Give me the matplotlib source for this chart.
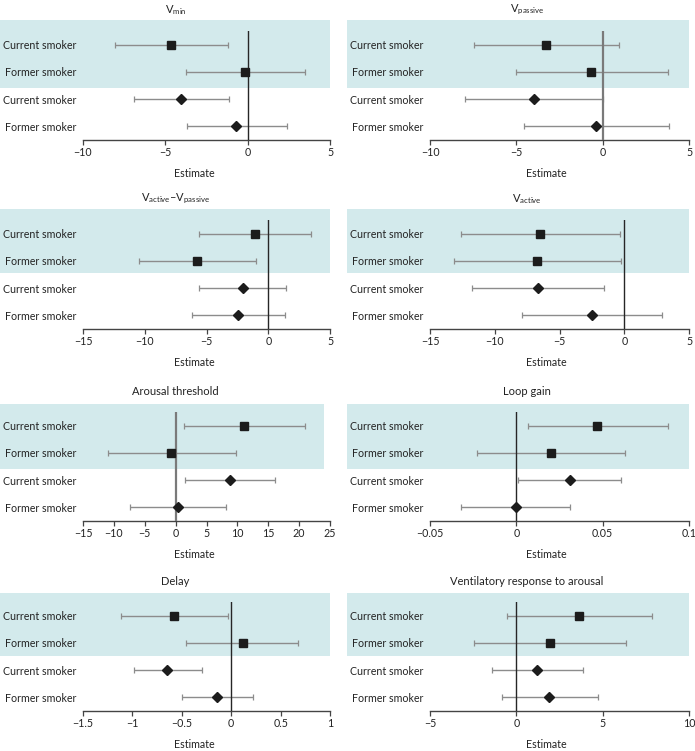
import matplotlib
matplotlib.use("Agg")
import matplotlib.pyplot as plt
from matplotlib.patches import Rectangle
from matplotlib.transforms import blended_transform_factory

plt.rcParams['font.family'] = ['Lato', 'DejaVu Sans']
plt.rcParams['mathtext.fontset'] = 'custom'
plt.rcParams['mathtext.rm'] = 'Lato'

# rows, top to bottom: first two = shaded group (squares), last two = diamonds
row_labels = ["Current smoker", "Former smoker", "Current smoker", "Former smoker"]

titles = [r"V$_\mathrm{min}$", r"V$_\mathrm{passive}$",
          r"V$_\mathrm{active}$–V$_\mathrm{passive}$", r"V$_\mathrm{active}$",
          "Arousal threshold", "Loop gain",
          "Delay", "Ventilatory response to arousal"]

vmin_est = [-4.63, -0.16, -4.03, -0.68]
vmin_lo = [-8.05, -3.74, -6.90, -3.70]
vmin_hi = [-1.17, 3.46, -1.13, 2.40]

vpassive_est = [-3.27, -0.65, -3.98, -0.38]
vpassive_lo = [-7.46, -5.04, -7.96, -4.58]
vpassive_hi = [0.96, 3.77, 0.0, 3.83]

vdiff_est = [-1.05, -5.74, -2.08, -2.45]
vdiff_lo = [-5.58, -10.48, -5.63, -6.20]
vdiff_hi = [3.45, -1.02, 1.43, 1.35]

vactive_est = [-6.53, -6.74, -6.66, -2.47]
vactive_lo = [-12.62, -13.16, -11.77, -7.87]
vactive_hi = [-0.36, -0.26, -1.57, 2.93]

arousal_est = [11.09, -0.71, 8.86, 0.43]
arousal_lo = [1.30, -11.03, 1.52, -7.34]
arousal_hi = [20.90, 9.73, 16.14, 8.20]

loop_est = [0.0469, 0.0202, 0.031, -0.0004]
loop_lo = [0.0066, -0.0229, 0.001, -0.0322]
loop_hi = [0.0881, 0.0627, 0.0607, 0.031]

delay_est = [-0.575, 0.118, -0.646, -0.141]
delay_lo = [-1.114, -0.454, -0.982, -0.501]
delay_hi = [-0.03, 0.68, -0.30, 0.219]

vra_est = [3.64, 1.95, 1.21, 1.91]
vra_lo = [-0.53, -2.45, -1.40, -0.84]
vra_hi = [7.87, 6.35, 3.86, 4.71]

estimates = [vmin_est, vpassive_est, vdiff_est, vactive_est, arousal_est, loop_est, delay_est, vra_est]
lows = [vmin_lo, vpassive_lo, vdiff_lo, vactive_lo, arousal_lo, loop_lo, delay_lo, vra_lo]
highs = [vmin_hi, vpassive_hi, vdiff_hi, vactive_hi, arousal_hi, loop_hi, delay_hi, vra_hi]

xticks = [[-10, -5, 0, 5], [-10, -5, 0, 5],
          [-15, -10, -5, 0, 5], [-15, -10, -5, 0, 5],
          [-15, -10, -5, 0, 5, 10, 15, 20, 25], [-0.05, 0, 0.05, 0.1],
          [-1.5, -1, -0.5, 0, 0.5, 1], [-5, 0, 5, 10]]

W, H = 695, 751
fig = plt.figure(figsize=(W / 100, H / 100), dpi=100)

col_x = [(83, 247), (430, 259)]
row_top = [31, 220, 412, 602]
ax_h = 109
band_y = [(-0.90, 1.61), (-0.90, 1.43), (-0.81, 1.60), (-0.84, 1.50)]
band_left = [-0.336, -0.322]

shade = '#d3eaec'
bar_col = '#8c8c8c'
txt = '#222222'
fs = 7.7

for i in range(8):
    r, c = divmod(i, 2)
    x0, w = col_x[c]
    ax = fig.add_axes([x0 / W, 1 - (row_top[r] + ax_h) / H, w / W, ax_h / H])
    ax.set_facecolor('none')

    est, lo, hi = estimates[i], lows[i], highs[i]
    ys = list(range(4))
    for k in ys:
        ax.errorbar(est[k], k, xerr=[[est[k] - lo[k]], [hi[k] - est[k]]],
                    fmt='none', ecolor=bar_col, elinewidth=1.0, capsize=2.5,
                    capthick=0.9, zorder=2)
        if k < 2:
            ax.plot(est[k], k, 's', color='#1c1c1c', ms=5.5, zorder=4)
        else:
            ax.plot(est[k], k, 'D', color='#1c1c1c', ms=4.6, zorder=4)

    if i in (1, 4):
        ax.axvline(0, color='#7a7a7a', lw=1.6, zorder=3)
    else:
        ax.axvline(0, color='#262626', lw=1.0, zorder=3)

    tr = blended_transform_factory(ax.transAxes, ax.transData)
    y0, y1 = band_y[r]
    right = 0.975 if i == 4 else 1.0
    ax.add_patch(Rectangle((band_left[c], y0), right - band_left[c], y1 - y0,
                           transform=tr, facecolor=shade, edgecolor='none',
                           clip_on=False, zorder=0))

    ax.set_ylim(3.5, -0.5)
    ax.set_yticks(ys)
    ax.set_yticklabels(row_labels, fontsize=fs, color=txt)
    ax.tick_params(axis='y', length=0, pad=5)

    t = xticks[i]
    ax.set_xlim(t[0], t[-1])
    ax.set_xticks(t)
    ax.set_xticklabels([f"{v:g}".replace('-', '\u2212') for v in t], fontsize=fs, color=txt)
    ax.tick_params(axis='x', length=3.5, width=0.9, color='#444444', pad=1.5)

    for s in ('top', 'right', 'left'):
        ax.spines[s].set_visible(False)
    ax.spines['bottom'].set_color('#444444')
    ax.spines['bottom'].set_linewidth(1.0)

    ax.annotate(titles[i], xy=(0.375, 1), xycoords='axes fraction',
                xytext=(0, 15), textcoords='offset points',
                ha='center', va='center', fontsize=fs + 0.3, color=txt)
    ax.annotate("Estimate", xy=(0.45, 0), xycoords='axes fraction',
                xytext=(0, -24), textcoords='offset points',
                ha='center', va='center', fontsize=fs, color=txt)

fig.savefig("out.png", dpi=100)
